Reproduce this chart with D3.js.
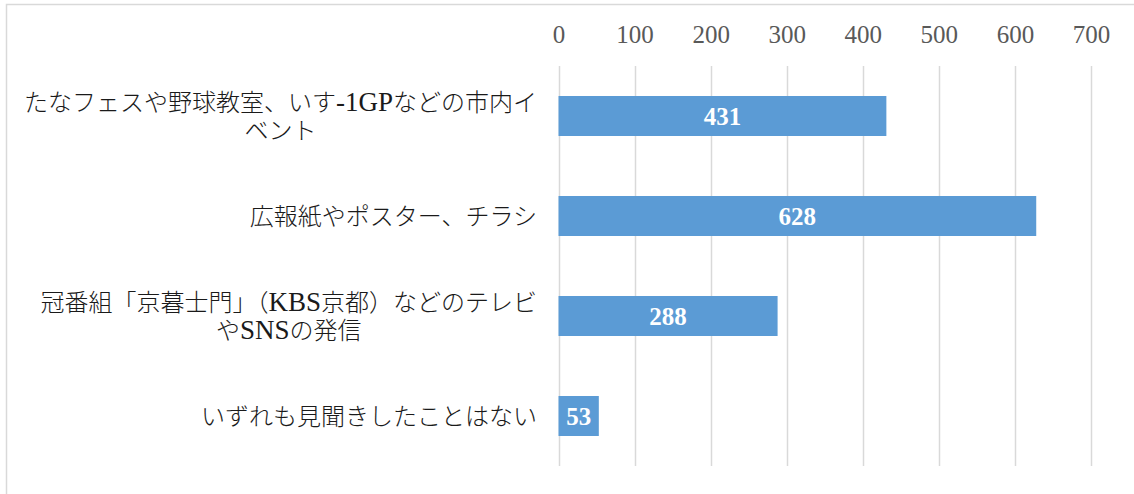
<!DOCTYPE html>
<html>
<head>
<meta charset="utf-8">
<script src="https://cdn.jsdelivr.net/npm/d3@7"></script>
<style>
  html, body { margin: 0; padding: 0; background: #fff; overflow: hidden; }
  svg { display: block; }
</style>
</head>
<body>
<svg id="chart" width="1134" height="494"></svg>
<script>
const categories = [
  "たなフェスや野球教室、いす-1GPなどの市内イ\nベント",
  "広報紙やポスター、チラシ",
  "冠番組「京暮士門」（KBS京都）などのテレビ\nやSNSの発信",
  "いずれも見聞きしたことはない"
];
const values = [431, 628, 288, 53];
const tickValues = [0, 100, 200, 300, 400, 500, 600, 700];

const svg = d3.select("#chart");
const FONT = "'Liberation Serif', 'Noto Sans CJK JP', serif";

// outer frame
svg.append("rect")
  .attr("x", 6.5).attr("y", 4.5)
  .attr("width", 1400).attr("height", 800)
  .attr("fill", "#fff")
  .attr("stroke", "#d9d9d9").attr("stroke-width", 1.5);

const x = d3.scaleLinear().domain([0, 700]).range([558.5, 1091]);
const y = d3.scaleBand().domain(categories).range([66, 466])
  .paddingInner(0.6).paddingOuter(0.3);

// gridlines
svg.append("g").selectAll("line").data(tickValues).join("line")
  .attr("x1", d => Math.round(x(d)) + 0.5).attr("x2", d => Math.round(x(d)) + 0.5)
  .attr("y1", 66).attr("y2", 466)
  .attr("stroke", "#d9d9d9").attr("stroke-width", 1.5);

// top axis labels
const axis = d3.axisTop(x).tickValues(tickValues).tickSize(0).tickPadding(0);
const ag = svg.append("g").attr("transform", "translate(0,43)").call(axis);
ag.select(".domain").remove();
ag.selectAll("text")
  .attr("font-family", FONT).attr("font-size", 25)
  .attr("fill", "#595959").attr("dy", 0);

// bars
svg.append("g").selectAll("rect").data(values).join("rect")
  .attr("x", x(0))
  .attr("y", (d, i) => y(categories[i]))
  .attr("width", d => x(d) - x(0))
  .attr("height", y.bandwidth())
  .attr("fill", "#5b9bd5");

// bar value labels
svg.append("g").selectAll("text").data(values).join("text")
  .attr("x", d => (x(0) + x(d)) / 2)
  .attr("y", (d, i) => y(categories[i]) + y.bandwidth() / 2)
  .attr("dy", "0.34em")
  .attr("text-anchor", "middle")
  .attr("font-family", FONT).attr("font-size", 25).attr("font-weight", "bold")
  .attr("fill", "#fff")
  .text(d => d);

// category labels
const rightEdge = 537;
const lineH = 28;
categories.forEach(c => {
  const lines = c.split("\n");
  const cy = y(c) + y.bandwidth() / 2;
  const g = svg.append("g");
  const texts = lines.map((ln, j) => {
    const t = g.append("text")
      .attr("y", cy + (j - (lines.length - 1) / 2) * lineH)
      .attr("dy", "0.36em")
      .attr("font-family", FONT).attr("font-size", 24)
      .attr("font-weight", 300)
      .attr("fill", "#1a1a1a");
    const runs = ln.match(/[\x20-\x7e]+|[^\x20-\x7e]+/g);
    runs.forEach(r => {
      const ascii = /^[\x20-\x7e]+$/.test(r);
      t.append("tspan")
        .attr("font-size", ascii ? 27 : 24)
        .attr("font-weight", ascii ? 400 : 300)
        .text(r);
    });
    return t;
  });
  const widths = texts.map(t => t.node().getComputedTextLength());
  const maxW = Math.max(...widths);
  const cx = rightEdge - maxW / 2;
  texts.forEach(t => t.attr("x", cx).attr("text-anchor", "middle"));
});
</script>
</body>
</html>
